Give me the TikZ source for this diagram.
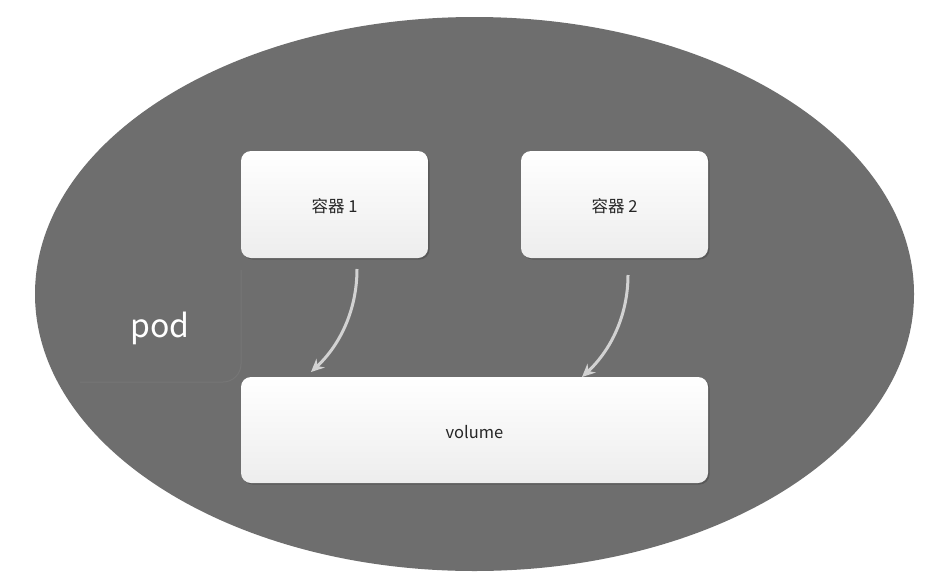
\documentclass[tikz,border=0pt]{standalone}
\usepackage{fontspec}
\setmainfont{Noto Sans CJK SC}
\usetikzlibrary{shadows,arrows.meta}
\definecolor{podgray}{HTML}{6E6E6E}
\definecolor{arrowgray}{HTML}{D2D2D2}
\definecolor{faintline}{HTML}{767676}
\begin{document}
\begin{tikzpicture}[x=1pt,y=-1pt,
  boxstyle/.style={rounded corners=10pt, top color=white, bottom color=black!7,
    draw=none, drop shadow={shadow xshift=1.5pt, shadow yshift=-1.5pt, opacity=0.6, fill=black!70},
    font=\fontsize{16.5}{19}\selectfont, text=black!85, inner sep=0pt,
    text height=19pt, text depth=3pt},
  flowarrow/.style={draw=arrowgray, line width=3pt, -{Stealth[length=13pt,width=12pt]}}]
  \useasboundingbox (0,0) rectangle (952,581);
  \fill[white] (0,0) rectangle (952,581);
  \fill[podgray] (474.5,294) ellipse [x radius=439.5, y radius=277];
  % faint pod label frame
  \draw[faintline, line width=1pt, rounded corners=18pt] (241,270) -- (241,382) -- (80,382);
  \node[text=white, font=\fontsize{32}{36}\selectfont] (podlabel) at (160,328) {pod};
  \node[boxstyle, minimum width=187pt, minimum height=107pt] (c1) at (334.5,204.5) {容器 1};
  \node[boxstyle, minimum width=187pt, minimum height=107pt] (c2) at (614.5,204.5) {容器 2};
  \node[boxstyle, minimum width=467pt, minimum height=106pt] (vol) at (474.5,430) {volume};
  \coordinate (s1) at (357,269);
  \coordinate (t1) at (311,372);
  \coordinate (s2) at (628,275);
  \coordinate (t2) at (582,377);
  \draw[flowarrow] (s1) .. controls (357,310) and (340,345) .. (t1);
  \draw[flowarrow] (s2) .. controls (628,315) and (611,350) .. (t2);
\end{tikzpicture}
\end{document}
